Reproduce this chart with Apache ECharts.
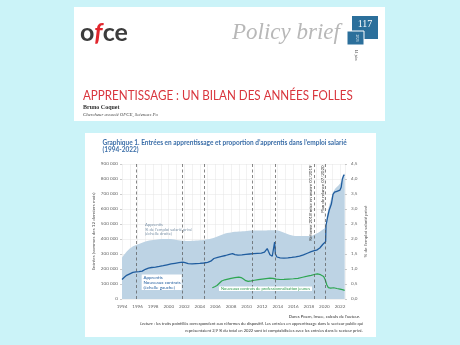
<!DOCTYPE html>
<html><head><meta charset="utf-8">
<script src="https://cdn.jsdelivr.net/npm/echarts@6/dist/echarts.min.js"></script>
<style>html,body{margin:0;padding:0;background:#cbf3f8}#c{width:460px;height:345px}</style>
</head><body><div id="c"></div>
<script>
// Apprentis : nouveaux contrats (somme des 12 derniers mois), échelle gauche
const apprYears = [1994.0,1994.3,1994.6,1995.0,1995.4,1995.8,1996.2,1996.6,1997.0,1997.4,1997.8,1998.3,1998.8,1999.3,1999.8,2000.3,2000.8,2001.3,2001.8,2002.1,2002.5,2003.0,2003.5,2004.0,2004.5,2005.0,2005.4,2005.8,2006.3,2006.8,2007.3,2007.8,2008.2,2008.5,2008.9,2009.4,2009.9,2010.4,2010.9,2011.4,2011.9,2012.3,2012.5,2012.65,2012.8,2013.0,2013.3,2013.5,2013.6,2013.7,2013.9,2014.3,2014.8,2015.3,2015.8,2016.3,2016.8,2017.3,2017.8,2018.3,2018.7,2019.0,2019.4,2019.8,2020.05,2020.15,2020.2,2020.4,2020.6,2020.9,2021.1,2021.3,2021.6,2022.0,2022.15,2022.3,2022.45,2022.55];
const apprEntries = [130000,145000,158000,168000,178000,181000,182000,186000,198000,206000,210000,213000,217000,222000,228000,234000,238000,242000,246000,242000,236000,234000,236000,237000,240000,244000,252000,270000,278000,284000,290000,298000,303000,296000,292000,294000,297000,300000,302000,304000,306000,312000,325000,336000,318000,295000,285000,290000,380000,300000,280000,274000,272000,274000,277000,281000,286000,294000,305000,316000,322000,326000,340000,365000,378000,382000,490000,545000,590000,635000,698000,712000,718000,726000,745000,800000,822000,828000];
// Apprentis en % de l'emploi salarié privé, échelle droite
const shareYears = [1994.0,1994.5,1995.0,1995.5,1996.0,1996.5,1997.0,1997.5,1998.0,1998.5,1999.0,1999.5,2000.0,2000.5,2001.0,2001.5,2002.0,2002.5,2003.0,2003.5,2004.0,2004.5,2005.0,2005.5,2006.0,2006.5,2007.0,2007.5,2008.0,2008.5,2009.0,2009.5,2010.0,2011.0,2012.0,2013.0,2013.5,2014.0,2014.5,2015.0,2015.5,2016.0,2016.5,2017.0,2017.5,2018.0,2018.5,2019.0,2019.5,2019.9,2020.15,2020.3,2020.5,2020.7,2020.9,2021.1,2021.4,2021.8,2022.1,2022.3,2022.5,2022.6];
const shareValues = [1.38,1.55,1.68,1.77,1.82,1.87,1.92,1.95,1.97,1.98,2.0,2.0,2.0,1.99,1.97,1.95,1.94,1.93,1.94,1.95,1.96,1.97,1.99,2.02,2.06,2.11,2.16,2.2,2.22,2.24,2.25,2.26,2.27,2.28,2.28,2.29,2.29,2.28,2.24,2.19,2.14,2.11,2.1,2.1,2.1,2.1,2.12,2.18,2.26,2.33,2.4,2.75,3.0,3.2,3.38,3.55,3.68,3.78,3.88,4.02,4.15,4.18];
// Nouveaux contrats de professionnalisation jeunes, échelle gauche
const proYears = [2005.6,2005.9,2006.2,2006.5,2006.8,2007.2,2007.6,2008.0,2008.5,2009.0,2009.3,2009.6,2009.9,2010.2,2010.6,2011.0,2011.5,2012.0,2012.5,2013.0,2013.4,2013.8,2014.3,2014.8,2015.4,2016.0,2016.6,2017.2,2017.8,2018.3,2018.8,2019.1,2019.5,2019.9,2020.1,2020.3,2020.5,2020.8,2021.2,2021.6,2022.0,2022.3,2022.6];
const proEntries = [75000,82000,90000,105000,120000,128000,133000,138000,142000,146000,143000,133000,122000,118000,121000,125000,129000,133000,136000,139000,138000,132000,130000,131000,133000,135000,138000,145000,152000,158000,165000,168000,162000,150000,128000,95000,76000,72000,75000,70000,66000,62000,58000];
// Réformes du dispositif (traits pointillés)
const reformDates = [1995.8, 2001.8, 2004.62, 2010.7, 2013.7, 2018.66, 2020.16];
const reformLabels = ['', '', '', '', '', 'Réforme 2018 mise en œuvre 01/2019', 'Plan de relance 07/2020'];

const zip = (xs, ys) => xs.map((x, i) => [x, ys[i]]);
const F = 'Lato, "Open Sans", sans-serif';
const SERIF = '"Liberation Serif", "DejaVu Serif", serif';

const chart = echarts.init(document.getElementById('c'), null, {renderer: 'canvas'});
chart.setOption({
  backgroundColor: '#cbf3f8',
  animation: false,
  textStyle: {fontFamily: F},
  grid: {left: 122, right: 115, top: 164, bottom: 46, containLabel: false},
  xAxis: {
    type: 'value', min: 1994, max: 2022.64, interval: 1,
    axisLine: {show: false}, axisTick: {show: false},
    axisLabel: {fontSize: 4.6, color: '#666', margin: 5, showMaxLabel: false,
      formatter: v => (Number.isInteger(v) && v % 2 === 0) ? String(v) : ''},
    splitLine: {show: true, lineStyle: {color: '#e4e4e4', width: 0.5}}
  },
  yAxis: [{
    type: 'value', min: 0, max: 900000, interval: 100000,
    name: 'Entrées (sommes des 12 derniers mois)', nameLocation: 'middle', nameGap: 26,
    nameTextStyle: {fontSize: 4.6, color: '#555'},
    axisLine: {show: false}, axisTick: {show: true, length: 2, lineStyle: {color: '#999', width: 0.5}},
    axisLabel: {fontSize: 4.6, color: '#666', margin: 4,
      formatter: v => v === 0 ? '0' : (v / 1000) + ' 000'},
    splitLine: {show: true, lineStyle: {color: '#e4e4e4', width: 0.5}}
  }, {
    type: 'value', min: 0, max: 4.5, interval: 0.5,
    name: '% de l\u2019emploi salarié privé', nameLocation: 'middle', nameGap: 18,
    nameTextStyle: {fontSize: 4.6, color: '#555'},
    axisLine: {show: false}, axisTick: {show: true, length: 2, lineStyle: {color: '#999', width: 0.5}},
    axisLabel: {fontSize: 4.6, color: '#666', margin: 6,
      formatter: v => v.toFixed(1).replace('.', ',')},
    splitLine: {show: false}
  }],
  series: [{
    type: 'line', yAxisIndex: 1, data: zip(shareYears, shareValues),
    showSymbol: false, smooth: 0.3, lineStyle: {width: 0},
    areaStyle: {color: '#bdd3e4', opacity: 1}, z: 1,
    markLine: {
      silent: true, symbol: 'none',
      lineStyle: {color: '#555', width: 0.7, type: [3, 2.5]},
      label: {show: false},
      data: reformDates.map((d, i) => ({
        xAxis: d,
        label: reformLabels[i] ? {show: true, formatter: reformLabels[i], position: 'insideEndTop',
          fontSize: 4.4, color: '#333', distance: 1.5} : {show: false}
      }))
    }
  }, {
    type: 'line', yAxisIndex: 0, data: zip(apprYears, apprEntries),
    showSymbol: false, lineStyle: {color: '#1f5c9e', width: 1.3}, itemStyle: {color: '#1f5c9e'}, z: 4
  }, {
    type: 'line', yAxisIndex: 0, data: zip(proYears, proEntries),
    showSymbol: false, lineStyle: {color: '#2ea652', width: 1.2}, itemStyle: {color: '#2ea652'}, z: 4
  }],
  graphic: [
    {type: 'rect', z: -10, shape: {x: 74, y: 7, width: 311, height: 114}, style: {fill: '#fff'}},
    {type: 'rect', z: -10, shape: {x: 85, y: 133, width: 291, height: 204}, style: {fill: '#fff'}},
    // header
    {type: 'text', x: 80, y: 33, style: {text: '{a|o}{b|f}{a|ce}', verticalAlign: 'middle', textVerticalAlign: 'middle',
      rich: {a: {fontSize: 25, fontWeight: 'bold', fontFamily: F, fill: '#3c3c3c', color: '#3c3c3c'},
             b: {fontSize: 25, fontWeight: 'bold', fontStyle: 'italic', fontFamily: F, fill: '#e1262d', color: '#e1262d'}}}},
    {type: 'text', x: 232, y: 33, style: {text: 'Policy brief', fontSize: 23, fontStyle: 'italic', fontFamily: SERIF,
      fill: '#b8b8b8', verticalAlign: 'middle', textVerticalAlign: 'middle'}},
    {type: 'rect', shape: {x: 352, y: 16, width: 26, height: 23}, style: {fill: '#2b6f9b'}},
    {type: 'rect', shape: {x: 347, y: 31, width: 17, height: 14}, style: {fill: '#2b6f9b', stroke: '#fff', lineWidth: 1}},
    {type: 'text', x: 365, y: 24, style: {text: '117', fontSize: 10, fontFamily: SERIF, fill: '#fff',
      align: 'center', textAlign: 'center', verticalAlign: 'middle', textVerticalAlign: 'middle'}},
    {type: 'text', x: 357, y: 38, rotation: -Math.PI / 2, style: {text: '2023', fontSize: 3.5, fontFamily: SERIF, fill: '#fff',
      align: 'center', textAlign: 'center', verticalAlign: 'middle', textVerticalAlign: 'middle'}},
    {type: 'text', x: 356, y: 55, rotation: -Math.PI / 2, style: {text: '14 juin', fontSize: 3.8, fontFamily: SERIF, fill: '#444',
      align: 'center', textAlign: 'center', verticalAlign: 'middle', textVerticalAlign: 'middle'}},
    {type: 'text', x: 83, y: 95, scaleX: 0.83, style: {text: 'APPRENTISSAGE : UN BILAN DES ANNÉES FOLLES', fontSize: 14,
      fontFamily: F, fill: '#d9353d', verticalAlign: 'middle', textVerticalAlign: 'middle'}},
    {type: 'text', x: 83, y: 107, style: {text: 'Bruno Coquet', fontSize: 6, fontWeight: 'bold', fontFamily: SERIF, fill: '#333',
      verticalAlign: 'middle', textVerticalAlign: 'middle'}},
    {type: 'text', x: 83, y: 114.5, style: {text: 'Chercheur associé OFCE, Sciences Po', fontSize: 4.8, fontStyle: 'italic',
      fontFamily: SERIF, fill: '#444', verticalAlign: 'middle', textVerticalAlign: 'middle'}},
    // chart title
    {type: 'text', x: 102.5, y: 143.3, style: {text: 'Graphique 1. Entrées en apprentissage et proportion d\u2019apprentis dans l\u2019emploi salarié',
      fontSize: 6.5, fontWeight: 'bold', fontFamily: F, fill: '#3b6ea8', verticalAlign: 'middle', textVerticalAlign: 'middle'}},
    {type: 'text', x: 102.5, y: 150.3, style: {text: '(1994-2022)', fontSize: 6.5, fontWeight: 'bold', fontFamily: F, fill: '#3b6ea8',
      verticalAlign: 'middle', textVerticalAlign: 'middle'}},
    // in-plot annotations
    {type: 'text', x: 145, y: 222.3, style: {text: 'Apprentis\n% de l\u2019emploi salarié privé\n(échelle droite)', fontSize: 4.2,
      lineHeight: 4.7, fontFamily: F, fill: '#7d93a8', verticalAlign: 'top', textVerticalAlign: 'top'}, z: 10},
    {type: 'rect', z: 10, shape: {x: 141.7, y: 274.5, width: 40, height: 15.5}, style: {fill: '#fff'}},
    {type: 'text', z: 11, x: 143.5, y: 275.2, style: {text: 'Apprentis\nNouveaux contrats\n(échelle gauche)', fontSize: 4.5,
      lineHeight: 4.8, fontFamily: F, fill: '#1f5c9e', verticalAlign: 'top', textVerticalAlign: 'top'}},
    {type: 'rect', z: 10, shape: {x: 219, y: 286.5, width: 93, height: 4.6}, style: {fill: '#fff'}},
    {type: 'text', z: 11, x: 265.5, y: 288.8, style: {text: 'Nouveaux contrats de professionnalisation jeunes', fontSize: 4.1,
      fontFamily: F, fill: '#2a9a4a', align: 'center', textAlign: 'center', verticalAlign: 'middle', textVerticalAlign: 'middle'}},
    // source & reading notes
    {type: 'text', x: 360, y: 316.7, style: {text: 'Dares Poem, Insee, calculs de l\u2019auteur.', fontSize: 4.3, fontFamily: F,
      fill: '#333', align: 'right', textAlign: 'right', verticalAlign: 'middle', textVerticalAlign: 'middle'}},
    {type: 'text', x: 363, y: 323.3, style: {text: '{i|Lecture} : les traits pointillés correspondent aux réformes du dispositif. Les entrées en apprentissage dans le secteur public qui',
      fontSize: 4.1, fontFamily: F, fill: '#333', align: 'right', textAlign: 'right', verticalAlign: 'middle', textVerticalAlign: 'middle',
      rich: {i: {fontSize: 4.1, fontStyle: 'italic', fontFamily: F, fill: '#333', color: '#333'}}}},
    {type: 'text', x: 363, y: 330.7, style: {text: 'représentaient 2,9 % du total en 2022 sont ici comptabilisées avec les entrées dans le secteur privé.',
      fontSize: 4.1, fontFamily: F, fill: '#333', align: 'right', textAlign: 'right', verticalAlign: 'middle', textVerticalAlign: 'middle'}}
  ]
});
</script></body></html>
